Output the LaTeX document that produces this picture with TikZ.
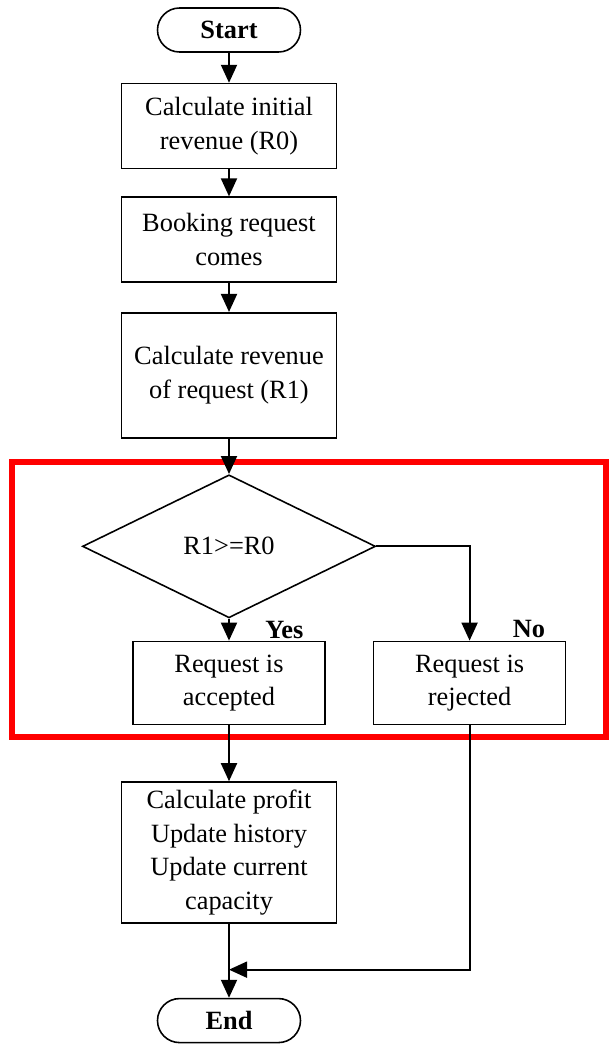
\documentclass[tikz,border=0pt]{standalone}
\usepackage{fontspec}
\setmainfont{Liberation Serif}
\usetikzlibrary{positioning,shapes.geometric,arrows.meta}

\begin{document}
\begin{tikzpicture}[node distance=0.6cm, auto,
		font=\fontsize{15}{19}\selectfont,
		box/.style={draw, line width=0.9pt, minimum width=4.3cm, align=center},
		term/.style={draw, line width=0.9pt, rounded corners=0.44cm, minimum width=2.86cm, minimum height=0.88cm, font=\fontsize{15}{19}\selectfont\bfseries},
		lbl/.style={inner sep=0pt, anchor=south west, font=\fontsize{15}{19}\selectfont\bfseries},
		arr/.style={-{Triangle[width=0.32cm,length=0.36cm]}, line width=1.1pt}]
		\useasboundingbox (0,0) rectangle (12.2,-21.02);
		
		\draw[red, line width=3.4pt] (0.24,-9.24) rectangle (12.12,-14.74);
		
		\node[term] (Start) at (4.58,-0.6) {Start};
		\node[box, minimum height=1.7cm] (R0) [below=0.6cm of Start] {Calculate initial\\revenue (R0)};
		\node[box, minimum height=1.7cm] (req) [below=0.54cm of R0] {Booking request\\comes};
		\node[box, minimum height=2.5cm] (R1) [below=0.58cm of req] {Calculate revenue\\of request (R1)};
		\node[draw, diamond, line width=0.9pt, aspect=2.05, inner sep=0pt, minimum width=5.86cm, minimum height=2.86cm] (dec) [below=0.71cm of R1] {R1>=R0};
		\node[box, minimum width=3.84cm, minimum height=1.66cm] (acc) [below=0.44cm of dec] {Request is\\accepted};
		\node[box, minimum width=3.84cm, minimum height=1.66cm] (rej) [right=0.94cm of acc] {Request is\\rejected};
		\node[box, minimum height=2.82cm] (prof) [below=1.12cm of acc] {Calculate profit\\Update history\\Update current\\capacity};
		\node[term] (End) [below=1.48cm of prof] {End};
		\node[lbl] (yes) [above right=0.04cm and 0.72cm of acc.north] {Yes};
		\node[lbl] (no) [above right=0.06cm and 0.86cm of rej.north] {No};
		\path (prof.south) -- coordinate[pos=0.62] (join) (End.north);
		
		\draw[arr] (Start) -- (R0);
		\draw[arr] (R0) -- (req);
		\draw[arr] (req) -- (R1);
		\draw[arr] (R1) -- (dec);
		\draw[arr] (dec) -- (acc);
		\draw[arr] (dec.east) -| (rej.north);
		\draw[arr] (acc) -- (prof);
		\draw[arr] (prof) -- (End);
		\draw[arr] (rej.south) |- (join);
		
	\end{tikzpicture}
\end{document}
